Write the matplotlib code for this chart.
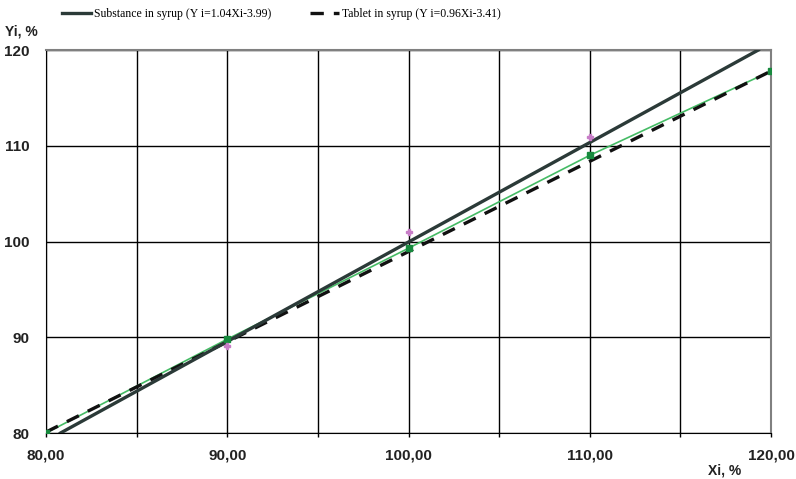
import numpy as np
import matplotlib.pyplot as plt
from matplotlib.ticker import FixedLocator

# values
x_pts = [80, 90, 100, 110, 120]
substance_pts_x = [90, 100, 110]
substance_pts_y = [89.1, 101.0, 110.9]
tablet_pts_y = [80.0, 89.8, 99.3, 109.0, 117.8]

# fitted lines as drawn (endpoints)
substance_fit_x = [80.8, 119.3]
substance_fit_y = [80.0, 120.0]
tablet_fit_x = [80, 120]
tablet_fit_y = [80.1, 117.8]

x_ticks = [80, 90, 100, 110, 120]
x_tick_labels = ["80,00", "90,00", "100,00", "110,00", "120,00"]
y_ticks = [80, 90, 100, 110, 120]

fig = plt.figure(figsize=(7.96, 4.79), dpi=100)
ax = fig.add_axes([0.0578, 0.096, 0.9108, 0.7996])

ax.plot(x_pts, tablet_pts_y, color="#45bb65", lw=1.2, zorder=3)
ax.plot(tablet_fit_x, tablet_fit_y, color="#111111", lw=2.4, ls=(0, (4, 3)), zorder=4,
        label="Tablet in syrup (Y i=0.96Xi-3.41)")
ax.plot(substance_fit_x, substance_fit_y, color="#2b3a38", lw=2.4, zorder=4,
        label="Substance in syrup (Y i=1.04Xi-3.99)")
ax.plot(x_pts, tablet_pts_y, ls="none", marker="s", ms=4.5, color="#178a3e", zorder=5)
ax.plot(substance_pts_x, substance_pts_y, ls="none", marker="P", ms=5,
        color="#c77dc7", zorder=5)

ax.set_xlim(80, 120)
ax.set_ylim(80, 120)
ax.xaxis.set_major_locator(FixedLocator(x_ticks))
ax.set_xticklabels(x_tick_labels)
ax.xaxis.set_minor_locator(FixedLocator([85, 95, 105, 115]))
ax.set_yticks(y_ticks)
ax.grid(True, which="both", color="black", lw=1.0)
ax.set_axisbelow(True)
ax.tick_params(axis="x", which="both", length=3, width=1, color="black", pad=8)
ax.tick_params(axis="y", length=0, pad=12)
for lab in ax.get_xticklabels() + ax.get_yticklabels():
    lab.set_fontfamily("Liberation Sans")
    lab.set_fontsize(11)
    lab.set_fontweight("bold")
    lab.set_color("#222222")

for s in ["left", "bottom"]:
    ax.spines[s].set_color("black")
for s in ["right", "top"]:
    ax.spines[s].set_color("#808080")
    ax.spines[s].set_linewidth(1.5)

fig.text(0.006, 0.935, "Yi, %", fontsize=10, fontweight="bold",
         family="Liberation Sans", color="#222222", ha="left", va="center")
fig.text(0.91, 0.017, "Xi, %", fontsize=10, fontweight="bold",
         family="Liberation Sans", color="#222222", ha="center", va="center")

handles, labels = ax.get_legend_handles_labels()
fig.legend(handles[::-1], labels[::-1], loc="center", bbox_to_anchor=(0.353, 0.971),
           ncol=2, frameon=False, handlelength=2.45, handletextpad=0.25,
           columnspacing=3.3, prop={"family": "Liberation Serif", "size": 8.5})

fig.savefig("out.png", dpi=100)
